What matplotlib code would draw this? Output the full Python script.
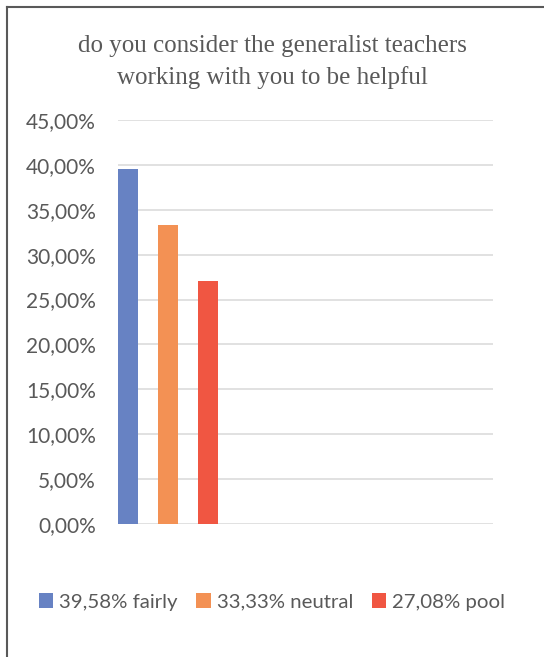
import matplotlib
matplotlib.use("Agg")
import matplotlib.pyplot as plt
from matplotlib.ticker import FuncFormatter, MultipleLocator
from matplotlib.lines import Line2D

# chart data
labels = ["39,58% fairly", "33,33% neutral", "27,08% pool"]
values = [39.58, 33.33, 27.08]
colors = ["#6782C3", "#F39154", "#F05642"]
title = "do you consider the generalist teachers\nworking with you to be helpful"

grey = "#595959"


def pct_fmt(y, pos):
    return "{:.2f}%".format(y).replace(".", ",")


fig = plt.figure(figsize=(5.44, 6.57), dpi=100)
ax = fig.add_axes([118 / 544, 133 / 657, 375 / 544, 404 / 657])

for i, (v, c, lab) in enumerate(zip(values, colors, labels)):
    ax.bar(i, v, width=0.5, color=c, label=lab, zorder=3)

ax.set_ylim(0, 45)
ax.set_xlim(-0.25, 9.125)
ax.yaxis.set_major_locator(MultipleLocator(5))
ax.yaxis.set_major_formatter(FuncFormatter(pct_fmt))
ax.grid(axis="y", color="#D9D9D9", linewidth=1.1, zorder=0)
ax.set_xticks([])
for s in ax.spines.values():
    s.set_visible(False)
ax.tick_params(axis="y", length=0, pad=16, labelsize=15, labelcolor=grey)
for t in ax.get_yticklabels():
    t.set_fontfamily("Lato")

fig.text(0.5, 1 - 62 / 657, title, ha="center", va="center", fontsize=18,
         family="Liberation Serif", color=grey, linespacing=1.5)

leg = fig.legend(loc="center", bbox_to_anchor=(0.5, 1 - 602 / 657), ncol=3,
                 frameon=False, handlelength=0.7, handleheight=0.7,
                 handletextpad=0.3, columnspacing=0.9,
                 prop={"family": "Lato", "size": 14.7})
for t in leg.get_texts():
    t.set_color(grey)

# chart border (left and top edges visible)
fig.add_artist(Line2D([6.5 / 544, 6.5 / 544], [0, 1 - 6.5 / 657],
                      transform=fig.transFigure, color=grey, linewidth=1.5))
fig.add_artist(Line2D([6.5 / 544, 1], [1 - 6.5 / 657, 1 - 6.5 / 657],
                      transform=fig.transFigure, color=grey, linewidth=1.5))

plt.savefig("out.png", dpi=100)
plt.close("all")
